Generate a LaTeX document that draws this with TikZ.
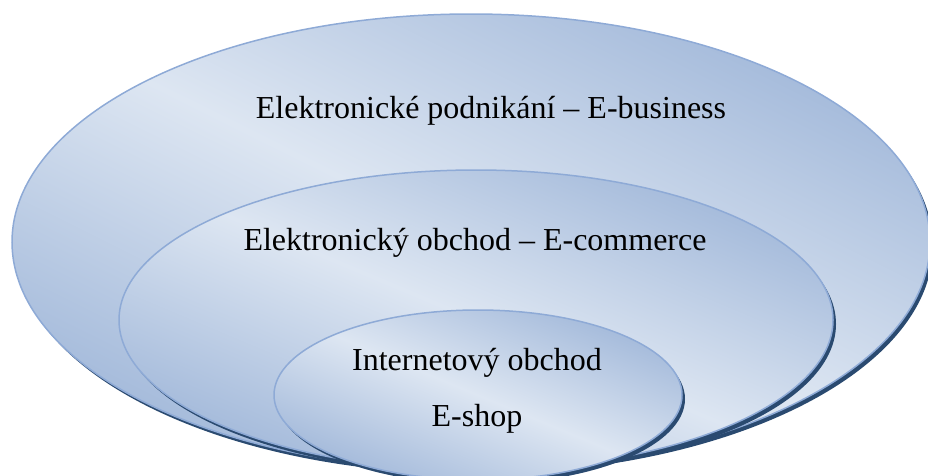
\documentclass[tikz,border=0pt]{standalone}
\usepackage{fontspec}
\setmainfont{Liberation Serif}
\definecolor{edgeblue}{HTML}{8EAAD6}
\definecolor{shadenavy}{HTML}{2A4A70}
\definecolor{darkfill}{HTML}{A0B7D9}
\definecolor{lightfill}{HTML}{DDE6F2}
\tikzset{
  ringedge/.style={draw=edgeblue, line width=1.5pt},
  ringshadow/.style={fill=shadenavy, draw=none},
  ringshade/.style={left color=darkfill, right color=darkfill, middle color=lightfill},
  label/.style={font=\fontsize{32}{38}\selectfont, anchor=base, inner sep=0pt}
}
% #1 name, #2 cx, #3 cy, #4 rx, #5 ry
\newcommand\myshadedring[5]{%
  \fill[ringshadow] (#2+3,#3+4) ellipse [x radius=#4, y radius=#5];
  \begin{scope}
    \clip (#2,#3) ellipse [x radius=#4, y radius=#5];
    \pgfmathsetmacro\myang{atan2(#4,#5)}%
    \pgfmathsetmacro\myhw{#4/veclen(#4,#5)*#5*1.4142*1.12}%
    \begin{scope}[transform canvas={rotate around={\myang:(#2,#3)}}]
      \shade[ringshade] (#2-\myhw,#3-700) rectangle (#2+\myhw,#3+700);
    \end{scope}
  \end{scope}
  \draw[ringedge] (#2,#3) ellipse [x radius=#4, y radius=#5];
  \coordinate (#1) at (#2,#3);
}
\begin{document}
\begin{tikzpicture}[x=1pt,y=-1pt]
\useasboundingbox (0,0) rectangle (928,475);
\clip (0,0) rectangle (928,475);
\myshadedring{outer}{471}{242}{459}{228}
\myshadedring{middle}{476}{320}{357}{150}
\myshadedring{inner}{478}{395}{204}{85}
\node[label] (ebiz) at (491,118) {Elektronické podnikání – E-business};
\node[label] (ecom) at (475,250) {Elektronický obchod – E-commerce};
\node[label] (inet) at (477,370) {Internetový obchod};
\node[label] (eshop) at (477,426) {E-shop};
\end{tikzpicture}
\end{document}
